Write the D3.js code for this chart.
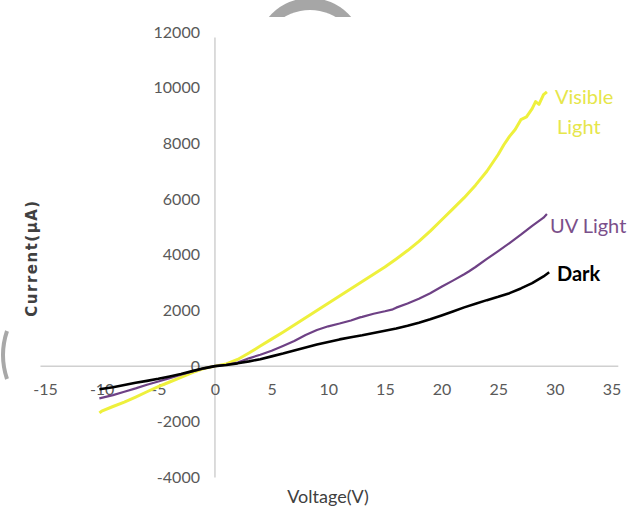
<!DOCTYPE html>
<html>
<head>
<meta charset="utf-8">
<script src="https://cdn.jsdelivr.net/npm/d3@7"></script>
<style>
	body { margin: 0; background: #fff; }
	svg { display: block; }
</style>
</head>
<body>
<script>
// ______________ data
var xTicks = [-15, -10, -5, 0, 5, 10, 15, 20, 25, 30, 35]
var yTicks = [-4000, -2000, 0, 2000, 4000, 6000, 8000, 10000, 12000]

var darkV = [-10.2, -9, -8, -7, -6, -5, -4, -3, -2, -1, 0, 1, 2, 3, 4, 5, 6, 7, 8, 9, 10, 11, 12, 13, 14, 15, 16, 17, 18, 19, 20, 21, 22, 23, 24, 25, 26, 27, 28, 29, 29.5]
var darkI = [-830, -760, -680, -600, -530, -455, -370, -280, -180, -80, 0, 40, 100, 170, 250, 350, 450, 560, 670, 780, 870, 960, 1040, 1110, 1190, 1270, 1350, 1450, 1560, 1680, 1820, 1960, 2110, 2240, 2370, 2490, 2620, 2790, 2980, 3220, 3370]

var uvV = [-10.2, -9, -8, -7, -6, -5, -4, -3, -2, -1, 0, 1, 2, 3, 4, 5, 6, 7, 8, 9, 10, 11, 12, 12.8, 13, 14, 15, 15.7, 16, 17, 18, 19, 20, 21, 22, 22.4, 23, 24, 25, 26, 27, 28, 29, 29.3]
var uvI = [-1160, -1040, -920, -800, -670, -550, -430, -310, -190, -80, 0, 50, 130, 280, 410, 550, 720, 900, 1120, 1300, 1430, 1530, 1640, 1750, 1770, 1880, 1970, 2040, 2100, 2250, 2420, 2620, 2850, 3070, 3300, 3400, 3560, 3850, 4130, 4420, 4720, 5040, 5330, 5460]

var visV = [-10.2, -10, -9, -8, -7, -6, -5, -4, -3, -2, -1, 0, 1, 2, 3, 4, 5, 6, 7, 8, 9, 10, 11, 12, 13, 14, 15, 16, 17, 18, 19, 20, 21, 22, 23, 24, 25, 25.5, 26, 26.5, 27, 27.5, 28, 28.3, 28.6, 29, 29.3]
var visI = [-1680, -1620, -1450, -1290, -1110, -920, -740, -570, -400, -230, -90, 0, 80, 240, 470, 720, 970, 1220, 1480, 1740, 2000, 2260, 2520, 2780, 3040, 3300, 3560, 3850, 4150, 4480, 4850, 5250, 5650, 6050, 6500, 7000, 7600, 7950, 8250, 8500, 8850, 8950, 9250, 9500, 9400, 9750, 9850]

var seriesNames = ['Visible', 'UV Light', 'Dark']
var seriesColors = ['#eef03c', '#6e4185', '#000000']

// ______________ layout
var width = 637, height = 518
var x = d3.scaleLinear().domain([-15, 35]).range([45, 611.5])
var y = d3.scaleLinear().domain([-4000, 12000]).range([477.5, 32])
var fontFace = 'Lato, "Open Sans", sans-serif'

var svg = d3.select('body').append('svg')
	.attr('width', width)
	.attr('height', height)
	.style('font-family', fontFace)

// ______________ bits of the scan around the chart
svg.append('circle').attr('cx', 310).attr('cy', 52).attr('r', 54).style('fill', '#a6a6a6')
svg.append('circle').attr('cx', 310).attr('cy', 60).attr('r', 50).style('fill', '#fff')
svg.append('rect').attr('x', 240).attr('y', 17).attr('width', 140).attr('height', 120).style('fill', '#fff')
svg.append('path')
	.attr('d', 'M 7 331 Q -1 355 7 379')
	.style('fill', 'none').style('stroke', '#a8a8a8').style('stroke-width', 4)

// ______________ axes
var axisColor = '#d0d0d0'
svg.append('line')
	.attr('x1', x(-15.4)).attr('x2', x(35.6))
	.attr('y1', y(0)).attr('y2', y(0))
	.style('stroke', axisColor).style('stroke-width', 1.5)
svg.append('line')
	.attr('x1', x(0)).attr('x2', x(0))
	.attr('y1', y(11800)).attr('y2', y(-4000))
	.style('stroke', axisColor).style('stroke-width', 1.5)

var plain = function (d) { return String(d) }

var xAxis = d3.axisBottom(x).tickValues(xTicks).tickFormat(plain).tickSize(0).tickPadding(0)
var gx = svg.append('g')
	.attr('transform', 'translate(0,' + (y(0) + 24) + ')')
	.call(xAxis)
	.attr('font-family', fontFace)
gx.select('.domain').remove()
gx.selectAll('text')
	.attr('dy', '0.32em')
	.attr('y', 0)
	.style('font-size', '16px')
	.style('fill', '#595959')

var yAxis = d3.axisLeft(y).tickValues(yTicks).tickFormat(plain).tickSize(0).tickPadding(0)
var gy = svg.append('g')
	.attr('transform', 'translate(' + (x(0) - 15) + ',0)')
	.call(yAxis)
	.attr('font-family', fontFace)
gy.select('.domain').remove()
gy.selectAll('text')
	.style('font-size', '16px')
	.style('fill', '#595959')

// axis titles
svg.append('text')
	.attr('x', 328).attr('y', 503)
	.attr('text-anchor', 'middle')
	.style('font-size', '18px')
	.style('fill', '#404040')
	.text('Voltage(V)')
svg.append('text')
	.attr('transform', 'translate(37,258) rotate(-90)')
	.attr('text-anchor', 'middle')
	.style('font-family', '"DejaVu Sans", sans-serif')
	.style('font-weight', 'bold')
	.style('letter-spacing', '1.5px')
	.style('font-size', '15px')
	.style('fill', '#404040')
	.text('Current(μA)')

// ______________ curves
var line = d3.line()
	.x(function (d) { return x(d[0]) })
	.y(function (d) { return y(d[1]) })

var curves = [
	{ name: seriesNames[0], v: visV, i: visI, color: seriesColors[0], w: 3 },
	{ name: seriesNames[1], v: uvV, i: uvI, color: seriesColors[1], w: 2.2 },
	{ name: seriesNames[2], v: darkV, i: darkI, color: seriesColors[2], w: 2.6 }
]

svg.append('g')
	.selectAll('path')
	.data(curves)
	.enter()
	.append('path')
		.attr('d', function (d) { return line(d.v.map(function (v, k) { return [v, d.i[k]] })) })
		.style('fill', 'none')
		.style('stroke', function (d) { return d.color })
		.style('stroke-width', function (d) { return d.w })
		.style('stroke-linejoin', 'round')

// ______________ series labels
var labels = [
	{ t: 'Visible', x: 555, y: 104, c: '#e6e64a', b: 'normal' },
	{ t: 'Light', x: 557, y: 134, c: '#e6e64a', b: 'normal' },
	{ t: 'UV Light', x: 550, y: 233, c: '#7b4f8a', b: 'normal' },
	{ t: 'Dark', x: 557, y: 281, c: '#000', b: 'bold' }
]
svg.selectAll('text.lab')
	.data(labels)
	.enter()
	.append('text')
		.classed('lab', true)
		.attr('x', function (d) { return d.x })
		.attr('y', function (d) { return d.y })
		.style('font-size', '20px')
		.style('font-weight', function (d) { return d.b })
		.style('fill', function (d) { return d.c })
		.text(function (d) { return d.t })
</script>
</body>
</html>
